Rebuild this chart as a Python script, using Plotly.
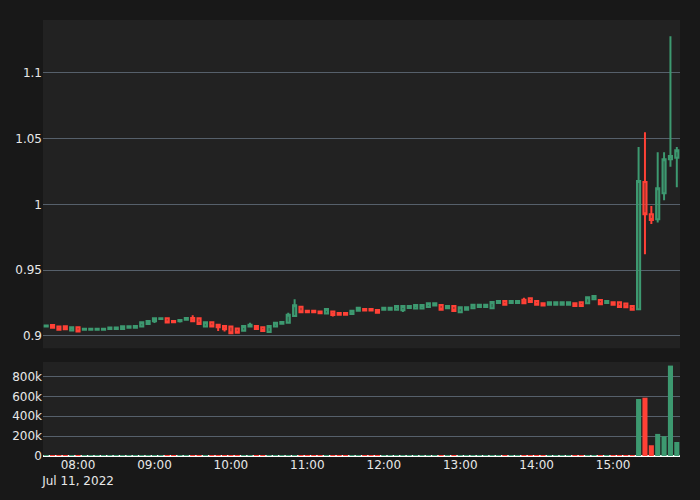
import pandas as pd
import plotly.graph_objects as go

times = pd.date_range("2022-07-11 07:35", periods=100, freq="5min")

opens = [0.9072, 0.9084, 0.9071, 0.9074, 0.9042, 0.9066, 0.9048, 0.9048, 0.9048, 0.9048,
         0.9052, 0.9052, 0.9052, 0.9062, 0.9062, 0.9071, 0.9090, 0.9112, 0.9128, 0.9134,
         0.9113, 0.9112, 0.9124, 0.9137, 0.9135, 0.9071, 0.9104, 0.9086, 0.9076, 0.9071,
         0.9056, 0.9040, 0.9071, 0.9076, 0.9066, 0.9030, 0.9071, 0.9093, 0.9101, 0.9152,
         0.9223, 0.9192, 0.9192, 0.9185, 0.9170, 0.9185, 0.9175, 0.9175, 0.9167, 0.9192,
         0.9205, 0.9205, 0.9198, 0.9200, 0.9200, 0.9200, 0.9195, 0.9212, 0.9208, 0.9208,
         0.9220, 0.9231, 0.9236, 0.9210, 0.9228, 0.9180, 0.9200, 0.9210, 0.9220, 0.9220,
         0.9210, 0.9251, 0.9266, 0.9251, 0.9251, 0.9276, 0.9287, 0.9266, 0.9249, 0.9238,
         0.9238, 0.9238, 0.9238, 0.9249, 0.9256, 0.9249, 0.9280, 0.9274, 0.9251, 0.9256,
         0.9256, 0.9246, 0.9228, 0.9203, 1.0171, 0.9925, 0.9887, 1.0085, 1.0344, 1.0356]

closes = [0.9080, 0.9062, 0.9048, 0.9050, 0.9066, 0.9034, 0.9054, 0.9054, 0.9054, 0.9055,
          0.9064, 0.9064, 0.9073, 0.9073, 0.9075, 0.9104, 0.9114, 0.9134, 0.9134, 0.9102,
          0.9105, 0.9122, 0.9137, 0.9112, 0.9091, 0.9104, 0.9071, 0.9066, 0.9051, 0.9021,
          0.9025, 0.9076, 0.9086, 0.9053, 0.9038, 0.9076, 0.9101, 0.9106, 0.9162, 0.9233,
          0.9180, 0.9181, 0.9180, 0.9172, 0.9205, 0.9160, 0.9162, 0.9162, 0.9192, 0.9215,
          0.9193, 0.9193, 0.9177, 0.9215, 0.9215, 0.9228, 0.9228, 0.9228, 0.9236, 0.9236,
          0.9249, 0.9249, 0.9200, 0.9228, 0.9190, 0.9218, 0.9218, 0.9238, 0.9238, 0.9238,
          0.9259, 0.9266, 0.9238, 0.9266, 0.9266, 0.9249, 0.9259, 0.9238, 0.9231, 0.9256,
          0.9256, 0.9256, 0.9256, 0.9228, 0.9228, 0.9294, 0.9304, 0.9241, 0.9266, 0.9238,
          0.9220, 0.9218, 0.9200, 1.0179, 0.9925, 0.9882, 1.0123, 1.0344, 1.0369, 1.0412]

highs = [0.9082, 0.9084, 0.9071, 0.9074, 0.9066, 0.9066, 0.9054, 0.9054, 0.9054, 0.9055,
         0.9064, 0.9064, 0.9073, 0.9073, 0.9075, 0.9104, 0.9114, 0.9134, 0.9134, 0.9134,
         0.9113, 0.9128, 0.9137, 0.9157, 0.9135, 0.9104, 0.9104, 0.9086, 0.9076, 0.9071,
         0.9056, 0.9076, 0.9101, 0.9076, 0.9066, 0.9076, 0.9101, 0.9106, 0.9177, 0.9279,
         0.9223, 0.9192, 0.9192, 0.9185, 0.9205, 0.9185, 0.9175, 0.9175, 0.9192, 0.9215,
         0.9205, 0.9205, 0.9198, 0.9215, 0.9215, 0.9228, 0.9228, 0.9228, 0.9236, 0.9236,
         0.9249, 0.9249, 0.9236, 0.9228, 0.9228, 0.9218, 0.9218, 0.9238, 0.9238, 0.9238,
         0.9259, 0.9266, 0.9266, 0.9266, 0.9266, 0.9290, 0.9287, 0.9266, 0.9249, 0.9256,
         0.9256, 0.9256, 0.9256, 0.9249, 0.9256, 0.9294, 0.9304, 0.9274, 0.9266, 0.9256,
         0.9256, 0.9246, 0.9228, 1.0437, 1.0549, 0.9989, 1.0397, 1.0397, 1.1279, 1.0437]

lows = [0.9070, 0.9062, 0.9048, 0.9050, 0.9042, 0.9034, 0.9048, 0.9048, 0.9048, 0.9048,
        0.9052, 0.9052, 0.9052, 0.9062, 0.9062, 0.9071, 0.9090, 0.9099, 0.9128, 0.9102,
        0.9105, 0.9102, 0.9124, 0.9112, 0.9091, 0.9071, 0.9071, 0.9038, 0.9033, 0.9021,
        0.9025, 0.9040, 0.9071, 0.9053, 0.9038, 0.9030, 0.9071, 0.9093, 0.9101, 0.9152,
        0.9180, 0.9181, 0.9180, 0.9172, 0.9170, 0.9147, 0.9162, 0.9162, 0.9167, 0.9192,
        0.9193, 0.9193, 0.9177, 0.9200, 0.9200, 0.9200, 0.9182, 0.9212, 0.9208, 0.9208,
        0.9220, 0.9231, 0.9200, 0.9210, 0.9190, 0.9180, 0.9200, 0.9210, 0.9220, 0.9220,
        0.9210, 0.9251, 0.9238, 0.9251, 0.9251, 0.9249, 0.9259, 0.9238, 0.9231, 0.9238,
        0.9238, 0.9238, 0.9238, 0.9228, 0.9228, 0.9249, 0.9280, 0.9241, 0.9251, 0.9238,
        0.9220, 0.9218, 0.9200, 0.9203, 0.9621, 0.9852, 0.9862, 1.0032, 1.0287, 1.0131]

volumes = [3000, 4000, 3500, 3000, 2000, 5000, 1500, 1500, 1500, 1500,
           1500, 1500, 2000, 1500, 1500, 3000, 3000, 4000, 1500, 3000,
           1500, 2500, 2500, 7000, 9000, 4000, 7000, 5000, 4000, 5000,
           4000, 7000, 3000, 4000, 3000, 4000, 2500, 2000, 8000, 9000,
           5000, 2000, 2000, 3000, 3000, 3000, 2000, 2000, 2500, 2500,
           2000, 2000, 3000, 2000, 2000, 3000, 3000, 2000, 3000, 2500,
           2500, 2000, 3000, 2500, 3000, 3000, 2000, 3000, 2000, 2000,
           3000, 2000, 2500, 2000, 2000, 3000, 3000, 2500, 2000, 2000,
           2000, 2000, 2000, 7000, 3000, 6000, 3000, 3000, 2000, 2500,
           3000, 3000, 3000, 573000, 586000, 108000, 222000, 199000, 909000, 141000]

UP = "#3D9970"
DOWN = "#FF4136"
bar_colors = [UP if c >= o else DOWN for o, c in zip(opens, closes)]

fig = go.Figure()
fig.add_trace(go.Candlestick(
    x=times, open=opens, high=highs, low=lows, close=closes,
    increasing=dict(line=dict(color=UP)),
    decreasing=dict(line=dict(color=DOWN)),
    xaxis="x", yaxis="y", showlegend=False,
))
fig.add_trace(go.Bar(
    x=times, y=volumes, marker=dict(color=bar_colors, line=dict(width=0)),
    xaxis="x2", yaxis="y2", showlegend=False,
))

grid = "#56606b"
xr = ["2022-07-11 07:32:30", "2022-07-11 15:52:30"]
fig.update_layout(
    width=700, height=500,
    margin=dict(l=43, r=20, t=20, b=44),
    paper_bgcolor="#181818", plot_bgcolor="#222222",
    font=dict(family="DejaVu Sans", color="#e8e8e8", size=12),
    showlegend=False,
    bargap=0.2,
    xaxis=dict(domain=[0, 1], anchor="y", rangeslider=dict(visible=False),
               showticklabels=False, showgrid=False, matches="x2", range=xr),
    yaxis=dict(domain=[0.247, 1], anchor="x", gridcolor=grid, zeroline=False,
               range=[0.8906, 1.1403]),
    xaxis2=dict(domain=[0, 1], anchor="y2", showgrid=False, range=xr),
    yaxis2=dict(domain=[0, 0.2156], anchor="x2", gridcolor=grid,
                range=[0, 945000], zeroline=True, zerolinecolor="#ffffff",
                zerolinewidth=2, tickvals=[0, 200000, 400000, 600000, 800000]),
)

fig.write_html(
    "out.html",
    config={"displayModeBar": False},
    post_script="document.body.style.margin='0';document.body.style.background='#181818';",
)
